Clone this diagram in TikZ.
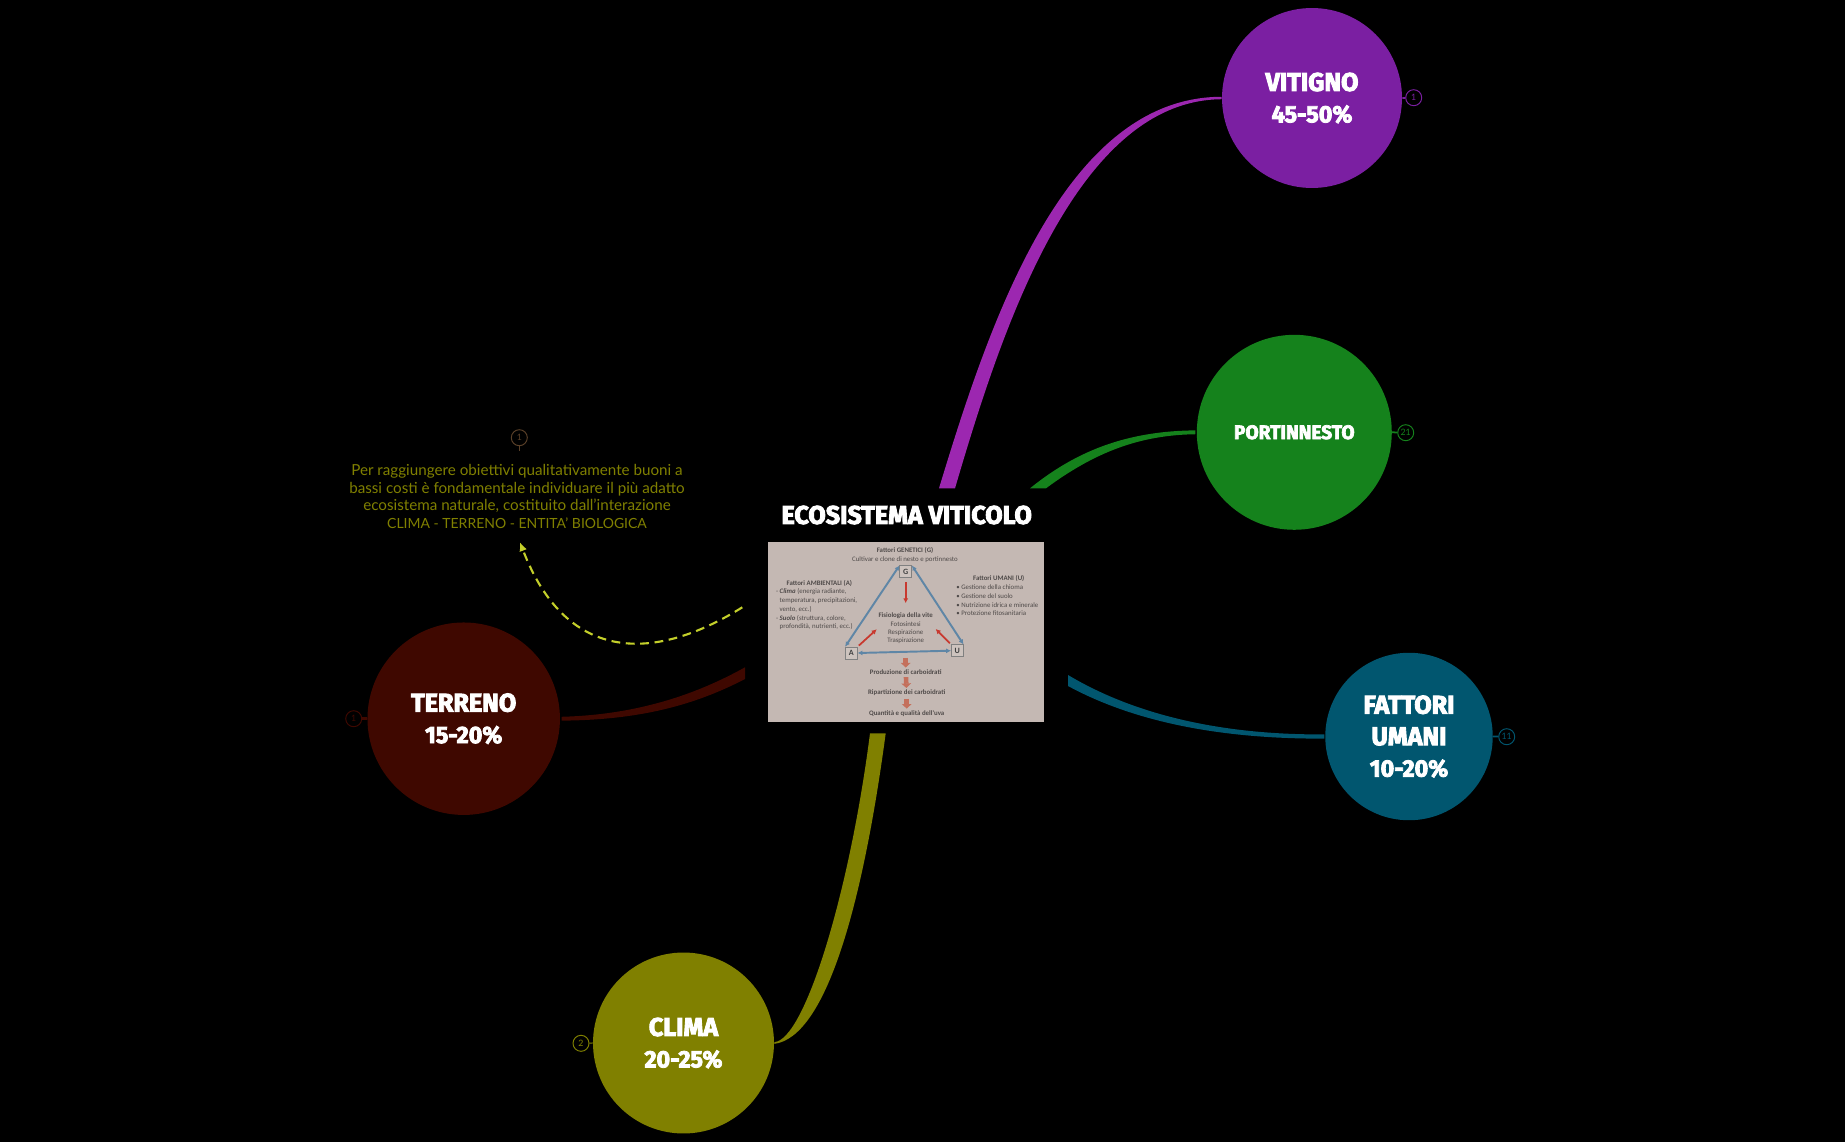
\documentclass[tikz,border=0pt]{standalone}
\usepackage{fontspec}
\setmainfont{Lato}
\newfontfamily\headfont[BoldFeatures={FakeBold=3.5,FakeStretch=0.98}]{Fira Sans}
\newfontfamily\photofont{Carlito}
\usetikzlibrary{
   arrows.meta,
   positioning
}
\definecolor{bgblack}{HTML}{000000}
\definecolor{vitignoc}{HTML}{7B1FA2}
\definecolor{vitignob}{HTML}{9C27B0}
\definecolor{portc}{HTML}{15821C}
\definecolor{terrenoc}{HTML}{3F0800}
\definecolor{climac}{HTML}{808000}
\definecolor{umanic}{HTML}{01566F}
\definecolor{photoc}{HTML}{C4B8B3}
\definecolor{phototext}{HTML}{4F4A49}
\definecolor{photoblue}{HTML}{5F86A6}
\definecolor{photored}{HTML}{C8392F}
\definecolor{photoor}{HTML}{C4705C}
\definecolor{dashc}{HTML}{C3CF2A}
\definecolor{notec}{HTML}{5A4028}
\newcommand{\pctline}[1]{{\fontsize{13.5}{17.9}\selectfont #1}}

\tikzset{
  topicball/.style={circle, inner sep=0pt, text=white, align=center,
    font=\headfont\bfseries\fontsize{14.6}{17.9}\selectfont},
  countmark/.style={circle, draw=#1, text=#1, line width=0.55pt, inner sep=0pt,
    minimum size=0.32cm, font=\fontsize{5}{6}\selectfont},
  photoline/.style={inner sep=0pt, text=phototext, font=\photofont\fontsize{3.9}{4.5}\selectfont},
  photohead/.style={photoline, font=\photofont\bfseries\fontsize{3.9}{4.5}\selectfont},
  photobox/.style={draw=gray, fill=photoc!85!white, inner sep=0pt, minimum size=0.235cm,
    text=black!75, font=\photofont\bfseries\fontsize{4.6}{5}\selectfont},
  bluelink/.style={{Latex[length=2.8pt,width=2.8pt]}-{Latex[length=2.8pt,width=2.8pt]}, photoblue, line width=1.1pt},
  redlink/.style={-{Latex[length=2.8pt,width=3pt]}, photored, line width=1pt},
  flowlink/.style={-{Triangle[length=2.6pt,width=5.4pt]}, photoor, line width=2.6pt},
}

\begin{document}
\begin{tikzpicture}[x=0.02cm, y=-0.02cm]

% page
\fill[bgblack] (0,0) rectangle (1845,1142);
\useasboundingbox (0,0) rectangle (1845,1142);

% main topics
\node[topicball, fill=vitignoc, minimum size=3.6cm] (vitigno) at (1312,98) {VITIGNO\\\pctline{45-50\%}};
\node[topicball, fill=portc, minimum size=3.9cm, font=\headfont\bfseries\fontsize{11.1}{14}\selectfont] (portinnesto) at (1294.3,432.3) {PORTINNESTO};
\node[topicball, fill=umanic, minimum size=3.35cm] (umani) at (1409,736.5) {FATTORI\\UMANI\\\pctline{10-20\%}};
\node[topicball, fill=terrenoc, minimum size=3.85cm] (terreno) at (463.7,718.7) {TERRENO\\\pctline{15-20\%}};
\node[topicball, fill=climac, minimum size=3.62cm] (clima) at (683.5,1043) {CLIMA\\\pctline{20-25\%}};

% branch feet round the centre
\coordinate (vitfootL) at (939,488.3);
\coordinate (vitfootR) at (955,488.3);
\coordinate (portfootL) at (1030,488.3);
\coordinate (portfootR) at (1046,488.3);
\coordinate (umafootT) at (1068,675);
\coordinate (umafootB) at (1068,686);
\coordinate (terfootT) at (745,667.3);
\coordinate (terfootB) at (745,679);
\coordinate (clifootL) at (870,733.3);
\coordinate (clifootR) at (885.7,733.3);

% branches
\fill[vitignob] (vitfootL) .. controls (990,320) and (1065,97) .. ([yshift=0.7pt]vitigno.west)
  -- ([yshift=-0.7pt]vitigno.west) .. controls (1075,100) and (1000,335) .. (vitfootR) -- cycle;
\fill[portc] (portfootL) .. controls (1075,452) and (1125,431) .. ([xshift=-0.6pt,yshift=1.1pt]portinnesto.west)
  -- ([xshift=-0.6pt,yshift=-1.1pt]portinnesto.west) .. controls (1140,435) and (1095,452) .. (portfootR) -- cycle;
\fill[umanic] (umafootT) .. controls (1140,718) and (1230,735) .. ([xshift=-0.3pt,yshift=1.2pt]umani.west)
  -- ([xshift=-0.3pt,yshift=-1.2pt]umani.west) .. controls (1230,739) and (1140,725) .. (umafootB) -- cycle;
\fill[terrenoc] (terfootT) .. controls (690,698) and (630,715) .. ([xshift=0.8pt,yshift=1.1pt]terreno.east)
  -- ([xshift=0.8pt,yshift=-1.1pt]terreno.east) .. controls (640,720) and (695,705) .. (terfootB) -- cycle;
\fill[climac] (clifootL) .. controls (850,890) and (805,1040) .. ([yshift=0.5pt]clima.east)
  -- ([yshift=-0.5pt]clima.east) .. controls (825,1037) and (862,910) .. (clifootR) -- cycle;

% counters
\node[countmark=vitignoc] (vitmark) at (1413.7,97.7) {1};
\node[countmark=portc] (portmark) at (1405.7,432.7) {21};
\node[countmark=umanic] (umamark) at (1506.7,736.7) {11};
\node[countmark=terrenoc] (termark) at (353.7,718.7) {1};
\node[countmark=climac] (climark) at (581,1043.3) {2};
\draw[vitignoc, line width=1pt] (vitigno.east) -- (vitmark);
\draw[portc, line width=1pt] (portinnesto.east) -- (portmark);
\draw[umanic, line width=1pt] (umani.east) -- (umamark);
\draw[terrenoc, line width=1.6pt] (terreno.west) -- (termark);
\draw[climac, line width=0.6pt] (clima.west) -- (climark);

% central topic
\node[inner sep=0pt, text=white, font=\headfont\bfseries\fontsize{14.6}{17.9}\selectfont] (ecotitle) at (906.7,515) {ECOSISTEMA VITICOLO};
\node[fill=photoc, inner sep=0pt, minimum width=5.53cm, minimum height=3.592cm] (photo) at (906.2,632) {};

% photo, top
\node[photohead] (genetici) at (905,550.7) {Fattori GENETICI (G)};
\node[photoline] (cultivar) at (905,559.3) {Cultivar e clone di nesto e portinnesto};
\node[photobox] (boxG) at (905.7,571.7) {G};
\node[photobox] (boxA) at (851.3,653) {A};
\node[photobox] (boxU) at (957.3,650.7) {U};

% photo, left column
\node[photohead] (ambientali) at (819.3,583) {Fattori AMBIENTALI (A)};
\node[photoline, anchor=west] (climaline) at (775.7,591.7) {- \textbf{\textit{Clima}} (energia radiante,};
\node[photoline, anchor=west] (templine) at (779.3,600.3) {temperatura, precipitazioni,};
\node[photoline, anchor=west] (ventoline) at (779.3,609.3) {vento, ecc.)};
\node[photoline, anchor=west] (suololine) at (775.7,618) {- \textbf{\textit{Suolo}} (struttura, colore,};
\node[photoline, anchor=west] (profline) at (779.3,626.3) {profondità, nutrienti, ecc.)};

% photo, right column
\node[photohead] (fumani) at (998.7,578.7) {Fattori UMANI (U)};
\node[photoline, anchor=west] (chioma) at (956,587.3) {• Gestione della chioma};
\node[photoline, anchor=west] (suolo) at (956,596) {• Gestione del suolo};
\node[photoline, anchor=west] (nutriz) at (956,604.7) {• Nutrizione idrica e minerale};
\node[photoline, anchor=west] (protez) at (956,613) {• Protezione fitosanitaria};

% photo, middle
\node[photohead] (fisio) at (905.7,615.3) {Fisiologia della vite};
\node[photoline] (fotos) at (905.7,624) {Fotosintesi};
\node[photoline] (respir) at (905.7,632.3) {Respirazione};
\node[photoline] (trasp) at (905.7,641) {Traspirazione};
\node[photohead] (prod) at (905.7,671.7) {Produzione di carboidrati};
\node[photohead] (ripart) at (906.7,692.7) {Ripartizione dei carboidrati};
\node[photohead] (quant) at (906.7,713.3) {Quantità e qualità dell'uva};

% photo, arrows
\coordinate (tipA) at (876.7,629.3);
\coordinate (tipU) at (935.7,629);
\draw[bluelink] (boxG.north west) -- (boxA.north west);
\draw[bluelink] (boxG.north east) -- (boxU.north east);
\draw[bluelink] (boxA.east) -- (boxU.west);
\draw[redlink, shorten <=2.5pt, shorten >=5pt] (boxG) -- (fisio);
\draw[redlink, shorten <=1pt] (boxA.north east) -- (tipA);
\draw[redlink, shorten <=1pt] (boxU.north west) -- (tipU);
\draw[flowlink, shorten <=7.8pt, shorten >=0.8pt] (trasp) -- (prod);
\draw[flowlink, shorten <=1.5pt, shorten >=0.8pt] (prod) -- (ripart);
\draw[flowlink, shorten <=1.5pt, shorten >=0.8pt] (ripart) -- (quant);

% note
\node[inner sep=0pt, text=climac, align=center, font=\fontsize{8.65}{10.05}\selectfont] (note) at (517,496.5)
  {Per raggiungere obiettivi qualitativamente buoni a\\bassi costi è fondamentale individuare il più adatto\\ecosistema naturale, costituito dall'interazione\\{\fontsize{7.95}{10.05}\selectfont CLIMA - TERRENO - ENTITA' BIOLOGICA}};
\node[countmark=notec] (notemark) at (519.3,437.7) {1};
\coordinate (notestem) at (519.3,450.7);
\draw[notec, line width=0.8pt] (notemark) -- (notestem);

% relation
\coordinate (relstart) at (742.3,607.3);
\coordinate (reltip) at (520,542.3);
\draw[dashc, line width=1.2pt, dash pattern=on 5pt off 3.2pt, -{Latex[length=5pt,width=4.5pt]}] (relstart) .. controls (650,665) and (565,660) .. (reltip);

\end{tikzpicture}
\end{document}
